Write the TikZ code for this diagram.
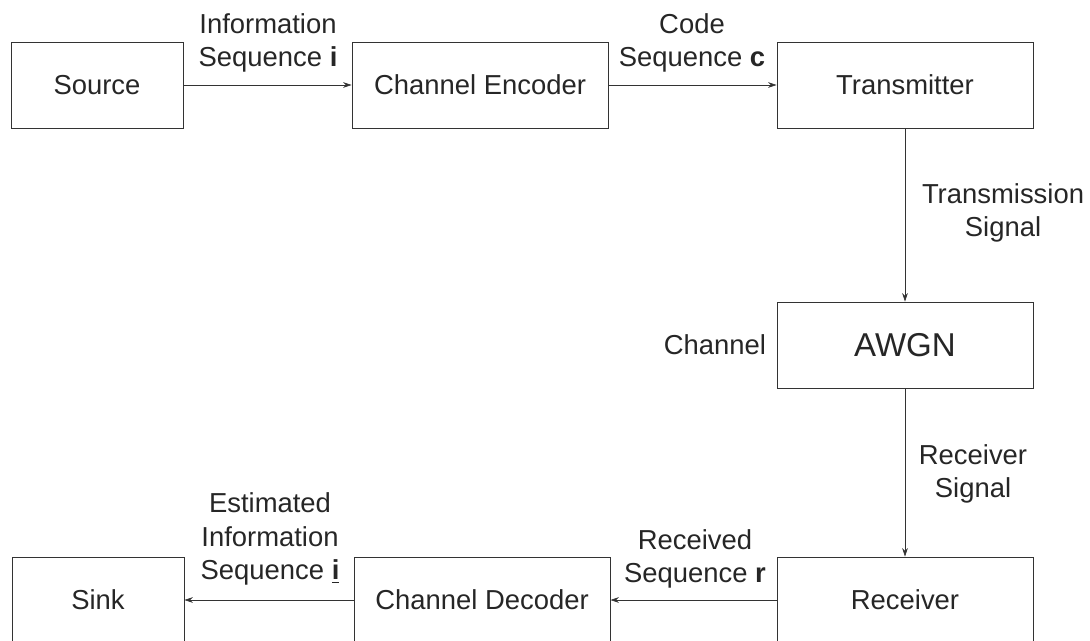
\documentclass[tikz,border=0pt]{standalone}
\usepackage{fontspec}
\setmainfont{Liberation Sans}
\usetikzlibrary{arrows.meta}

\begin{document}
\begin{tikzpicture}[x = 0.025cm, y = -0.025cm, font = \fontsize{19.5}{24}\selectfont,
        block/.style = {draw = black!80, line width = 0.6pt, minimum width = 6.4cm,
            minimum height = 2.15cm, inner sep = 0pt, text = black!85},
        small block/.style = {block, minimum width = 4.3cm},
        flow/.style = {-{Stealth[length = 6pt, width = 4pt]}, line width = 0.5pt, black!80},
        tag/.style = {align = center, inner sep = 0pt, text = black!85}]
        \useasboundingbox (0,0) rectangle (1090,640);
        
        % top row
        \node [small block] (source) at (97,85) {Source};
        \node [block] (encoder) at (480,85) {Channel Encoder};
        \node [block] (transmitter) at (905,85) {Transmitter};
        
        % channel
        \node [block, font = \fontsize{23.5}{28}\selectfont] (awgn) at (905,345) {AWGN};
        \node [tag] (channel) at (715,345) {Channel};
        
        % bottom row
        \node [block] (receiver) at (905,600) {Receiver};
        \node [block] (decoder) at (482,600) {Channel Decoder};
        \node [small block] (sink) at (98,600) {Sink};
        
        \draw [flow]
        (source) -- (encoder);
        
        \draw [flow]
        (encoder) -- (transmitter);
        
        \draw [flow]
        (transmitter) -- (awgn);
        
        \draw [flow]
        (awgn) -- (receiver);
        
        \draw [flow]
        (receiver) -- (decoder);
        
        \draw [flow]
        (decoder) -- (sink);
        
        % signal names
        \node [tag] (info) at (268,43) {Information\\Sequence \textbf{i}};
        \node [tag] (code) at (692,43) {Code\\Sequence \textbf{c}};
        \node [tag] (txsignal) at (1003,213) {Transmission\\Signal};
        \node [tag] (rxsignal) at (973,474) {Receiver\\Signal};
        \node [tag] (received) at (695,559) {Received\\Sequence \textbf{r}};
        \node [tag] (estimated) at (270,539) {Estimated\\Information\\Sequence \underline{\textbf{i}}};
    \end{tikzpicture}
\end{document}
